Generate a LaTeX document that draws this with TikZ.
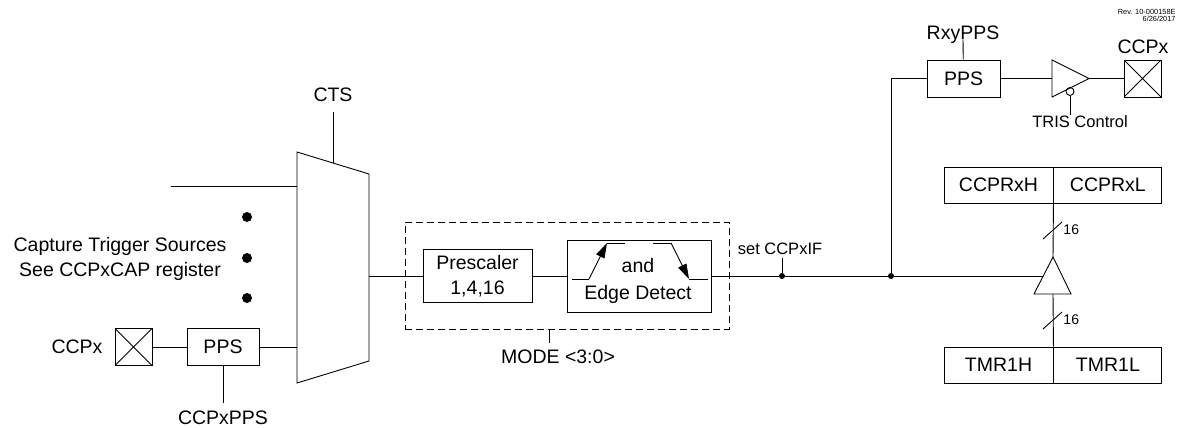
\documentclass[tikz,border=0pt]{standalone}
\usepackage{fontspec}
\setmainfont{Liberation Sans}
\usetikzlibrary{positioning,arrows.meta}
\begin{document}
\begin{tikzpicture}[x=1pt,y=-1pt,line width=0.9pt,
  font=\fontsize{19.5}{25}\selectfont,
  box/.style={draw,inner sep=0pt,minimum height=37pt},
  pad/.style={draw,inner sep=0pt,minimum size=37pt,
    path picture={\draw (path picture bounding box.north west) -- (path picture bounding box.south east)
      (path picture bounding box.south west) -- (path picture bounding box.north east);}},
  junc/.style={circle,fill,inner sep=0pt,minimum size=6pt},
  mid/.style={font=\fontsize{16.5}{18}\selectfont},
  bus/.style={font=\fontsize{14}{16}\selectfont,inner sep=0pt,anchor=west},
  tip/.style={-{Triangle[length=15pt,width=9pt]}}]
\useasboundingbox (0,0) rectangle (1177,428);
% the mux and its select line
\draw (297,152) -- (369,174) -- (369,361) -- (297,383) -- cycle;
\coordinate (mux top) at (333,163);
\coordinate (mux in1) at (297,186);
\coordinate (mux in2) at (297,347);
\coordinate (mux out) at (369,276);
\node[inner ysep=10pt] (cts) at (333,95) {CTS};
\draw (mux top) -- (cts);
% the capture sources
\coordinate (src) at (171,186);
\draw (src) -- (mux in1);
\foreach \y in {217,258,298}
  \fill (247,\y) circle (5pt);
\node[align=center] (srclbl) at (120,259) {Capture Trigger Sources\\See CCPxCAP register};
\node (ccpxL) at (77,347) {CCPx};
\node[pad] (padL) at (133.5,347) {};
\node[box,minimum width=72pt] (ppsL) at (223,347) {PPS};
\node[inner ysep=8pt] (ccpxpps) at (223,418) {CCPxPPS};
\draw (padL) -- (ppsL) -- (mux in2);
\draw (ppsL) -- (ccpxpps);
% prescaler and edge detect in the mode box
\node[draw,dash pattern=on 7pt off 4pt,inner sep=0pt,minimum width=324pt,minimum height=107pt] (modebox) at (567,275.5) {};
\node[box,minimum width=109pt,minimum height=53pt,align=center] (presc) at (477.5,276) {Prescaler\\1,4,16};
\node[box,minimum width=144pt,minimum height=72pt] (edge) at (639,276) {};
\node[align=center,inner sep=0pt,font=\fontsize{19.5}{27}\selectfont] (edgetxt) at (638,281) {and\\Edge Detect};
\draw (572,279) -- (589,279);
\draw[tip] (589,279) -- (607,243);
\draw (607,243) -- (625,243);
\draw (653,243) -- (671,243);
\draw[tip] (671,243) -- (689,279);
\draw (689,279) -- (708,279);
\coordinate (modetap) at (549,329);
\node[inner ysep=7pt] (mode) at (558,357) {MODE <3:0>};
\draw (modetap) -- (modetap |- mode.north);
\draw (mux out) -- (presc) -- (edge);
% the interrupt flag and the junctions
\node[junc] (j1) at (782,276) {};
\node[junc] (j2) at (891,276) {};
\node[mid] (setif) at (780,248.5) {set CCPxIF};
\draw (j1) -- (j1 |- setif.south);
% output through PPS
\node[box,minimum width=73pt] (ppsR) at (963.5,78.5) {PPS};
\node[anchor=base] (rxy) at (963,39.5) {RxyPPS};
\draw (ppsR) -- (rxy.base);
\draw (j2) |- (ppsR);
\draw (1052,60) -- (1089,78.5) -- (1052,97) -- cycle;
\coordinate (buf in) at (1052,78.5);
\coordinate (buf out) at (1089,78.5);
\draw (ppsR) -- (buf in);
\node[pad] (padR) at (1142.5,78.5) {};
\node (ccpxR) at (1143,47) {CCPx};
\draw (buf out) -- (padR);
\node[circle,draw,inner sep=0pt,minimum size=8pt] (bub) at (1070,91.5) {};
\node[mid,anchor=north,inner sep=0pt] (tris) at (1080,115) {TRIS Control};
\draw (bub) -- (bub |- tris.north);
\node[align=right,anchor=north east,inner sep=0pt,font=\fontsize{7.4}{6.8}\selectfont] (rev) at (1176,9) {Rev. 10-000158E\\6/26/2017};
% capture registers, buffer and timer
\node[box,minimum width=109pt,minimum height=36pt] (ccprh) at (998.5,185) {CCPRxH};
\node[box,minimum width=108pt,minimum height=36pt,right=0pt of ccprh] (ccprl) {CCPRxL};
\node[box,minimum width=109pt,minimum height=36pt] (tmrh) at (998.5,365) {TMR1H};
\node[box,minimum width=108pt,minimum height=36pt,right=0pt of tmrh] (tmrl) {TMR1L};
\draw (1053,257) -- (1071,294) -- (1034,294) -- cycle;
\coordinate (buf2 top) at (1053,257);
\coordinate (buf2 bot) at (1053,294);
\coordinate (buf2 in) at (1043.2,276);
\draw (ccprh.south east) -- (buf2 top);
\draw (buf2 bot) -- (tmrh.north east);
\draw (edge) -- (j1) -- (j2) -- (buf2 in);
% the bus widths
\foreach \y in {230,320} {
  \draw (1043,\y+9) -- (1062,\y-8);
  \node[bus] (w\y) at (1063,\y) {16};
}
\end{tikzpicture}
\end{document}
